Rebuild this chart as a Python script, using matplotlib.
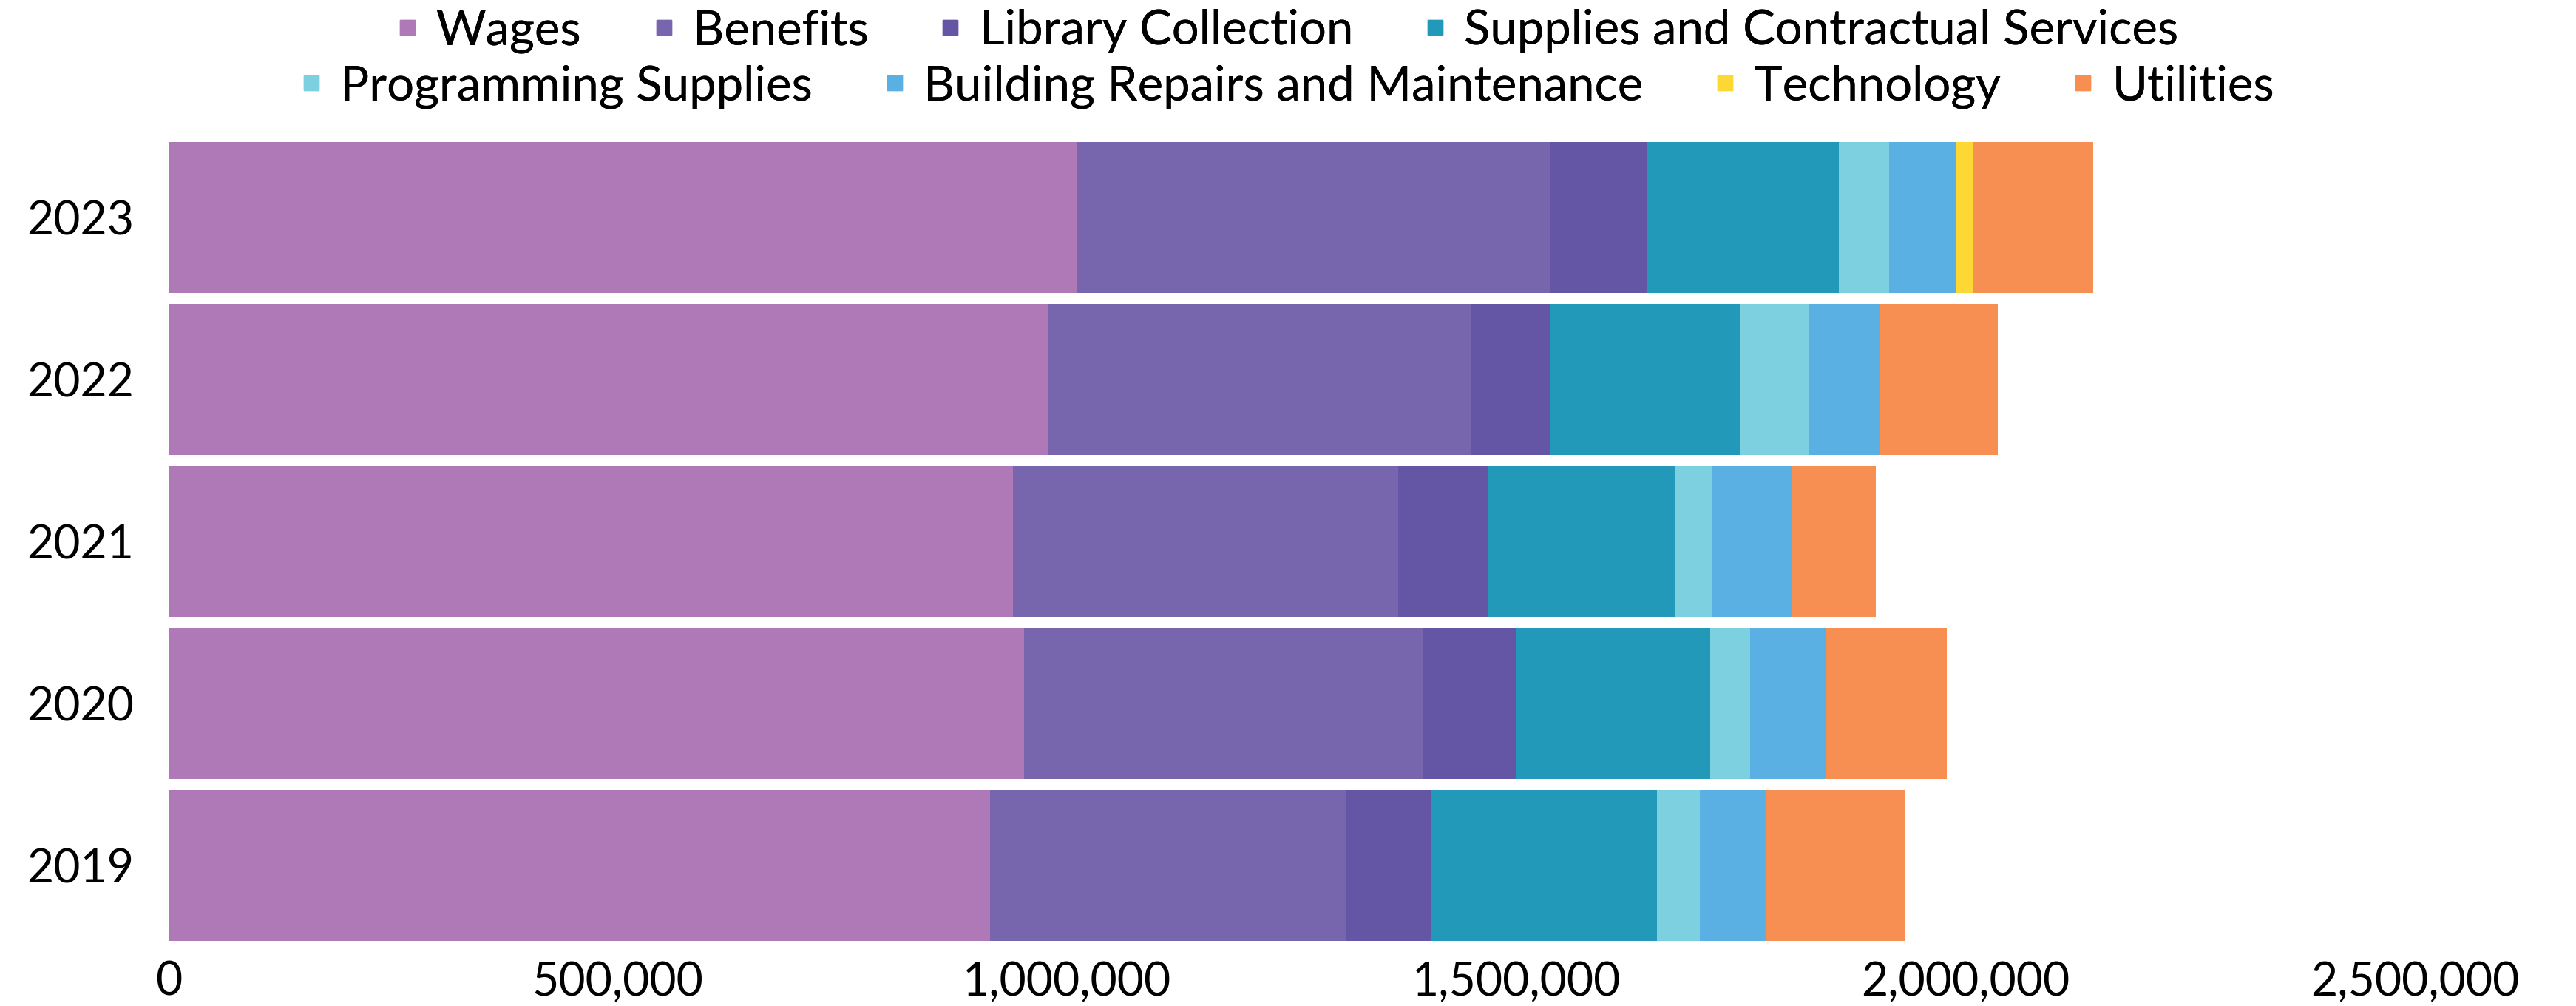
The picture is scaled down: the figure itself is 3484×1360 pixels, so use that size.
import numpy as np
import matplotlib.pyplot as plt
from matplotlib.lines import Line2D
from matplotlib.ticker import FuncFormatter

plt.rcParams['font.family'] = ['Lato', 'DejaVu Sans']

# data
years = ['2023', '2022', '2021', '2020', '2019']
wages = [1011000, 979000, 940000, 952000, 914000]
benefits = [526000, 470000, 429000, 444000, 397000]
library = [109000, 88000, 100000, 104000, 94000]
supplies = [213000, 212000, 208000, 216000, 252000]
programming = [56000, 76000, 41000, 44000, 47000]
building = [75000, 80000, 88000, 84000, 74000]
technology = [19000, 0, 0, 0, 0]
utilities = [133000, 131000, 94000, 135000, 154000]

categories = ['Wages', 'Benefits', 'Library Collection', 'Supplies and Contractual Services',
              'Programming Supplies', 'Building Repairs and Maintenance', 'Technology', 'Utilities']
series = [wages, benefits, library, supplies, programming, building, technology, utilities]
colors = ['#af78b6', '#7766ae', '#6555a5', '#2299b8', '#7dd0df', '#5aafe3', '#fdd835', '#f78f52']

fig = plt.figure(figsize=(34.84, 13.6), dpi=100)
ax = fig.add_axes([0.0654, 0.0592, 0.872, 0.805])

y = np.arange(len(years))
left = np.zeros(len(years))
for vals, c in zip(series, colors):
    vals = np.array(vals)
    ax.barh(y, vals, left=left, height=0.93, color=c, linewidth=0)
    left += vals

ax.set_xlim(0, 2500000)
ax.set_ylim(len(years) - 0.5, -0.5)
ax.set_yticks(y)
ax.set_yticklabels(years)
ax.set_xticks(np.arange(0, 2500001, 500000))
ax.xaxis.set_major_formatter(FuncFormatter(lambda v, p: f'{int(v):,}'))
ax.tick_params(axis='y', length=0, pad=34, labelsize=45)
ax.tick_params(axis='x', length=0, pad=14, labelsize=45)
for s in ax.spines.values():
    s.set_visible(False)

# legend, two centred rows
handles = [Line2D([], [], marker='s', linestyle='none', markersize=14, color=c) for c in colors]
rows = [(0, 4, 1 - 42 / 1360), (4, 8, 1 - 117 / 1360)]
for a, b, yy in rows:
    leg = fig.legend(handles[a:b], categories[a:b], loc='center', bbox_to_anchor=(0.5, yy),
                     ncol=4, frameon=False, fontsize=47, handlelength=0.4,
                     handletextpad=0.4, columnspacing=1.5, borderpad=0, borderaxespad=0)
    fig.add_artist(leg)

fig.savefig('out.png', dpi=100)
